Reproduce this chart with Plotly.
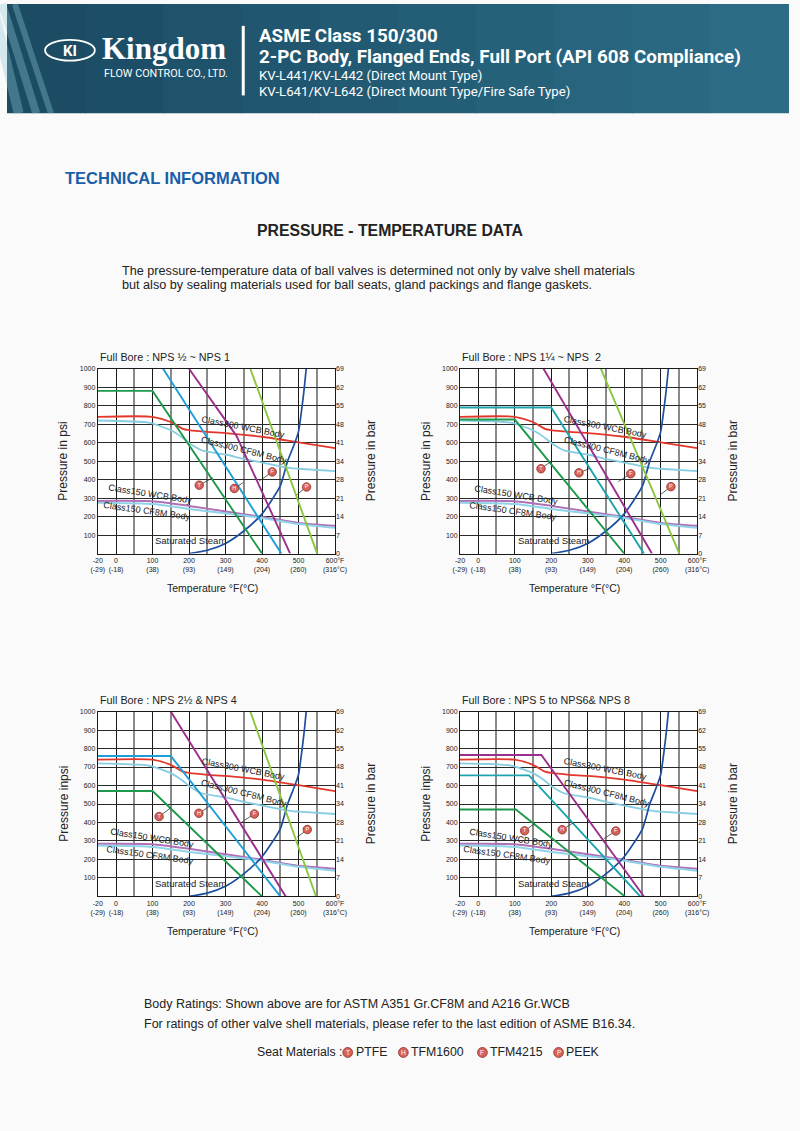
import plotly.graph_objects as go

W, H = 800, 1131

# ---------------- data ----------------
X_TICK_VALS = [-50, 0, 100, 200, 300, 400, 500, 600]
X_TICK_F = ["-20", "0", "100", "200", "300", "400", "500", "600°F"]
X_TICK_C = ["(-29)", "(-18)", "(38)", "(93)", "(149)", "(204)", "(260)", "(316°C)"]
PSI_TICKS = [100, 200, 300, 400, 500, 600, 700, 800, 900, 1000]
BAR_TICK_VALS = [0, 100, 200, 300, 400, 500, 600, 700, 800, 900, 1000]
BAR_TICK_TEXT = ["0", "7", "14", "21", "28", "34", "41", "48", "55", "62", "69"]

# body ratings (common to all four charts)
WCB300_T = [-50, 100, 150, 183, 200, 250, 300, 400, 500, 600]
WCB300_P = [740, 740, 712, 675, 668, 658, 652, 632, 602, 570]
CF8M300_T = [-50, 90, 150, 180, 200, 237, 300, 350, 400, 450, 480, 500, 600]
CF8M300_P = [720, 708, 667, 630, 598, 557, 536, 512, 492, 472, 462, 459, 446]
WCB150_T = [-50, 100, 200, 300, 400, 500, 600]
WCB150_P = [285, 283, 258, 228, 198, 166, 150]
CF8M150_T = [-50, 100, 200, 300, 400, 500, 600]
CF8M150_P = [275, 268, 241, 218, 193, 160, 139]
STEAM_T = [200, 250, 300, 350, 400, 450, 470, 490, 500, 510, 516, 521]
STEAM_P = [0, 18, 55, 122, 215, 366, 500, 600, 660, 800, 900, 1000]

# seat ratings, chart 1 : NPS 1/2 ~ 1
C1_PTFE_T, C1_PTFE_P = [-50, 100, 400], [880, 880, 0]
C1_TFM1600_T, C1_TFM1600_P = [129, 453], [1000, 0]
C1_TFM4215_T, C1_TFM4215_P = [200, 330, 477], [1000, 637, 0]
C1_PEEK_T, C1_PEEK_P = [368, 551], [1000, 0]
# chart 2 : NPS 1 1/4 ~ 2
C2_PTFE_T, C2_PTFE_P = [-50, 100, 400], [725, 725, 0]
C2_TFM1600_T, C2_TFM1600_P = [-50, 200, 454], [790, 790, 0]
C2_TFM4215_T, C2_TFM4215_P = [179, 476], [1000, 0]
C2_PEEK_T, C2_PEEK_P = [336, 551], [1000, 0]
# chart 3 : NPS 2 1/2 & 4
C3_PTFE_T, C3_PTFE_P = [-50, 100, 400], [570, 570, 0]
C3_TFM1600_T, C3_TFM1600_P = [-50, 150, 450], [760, 760, 0]
C3_TFM4215_T, C3_TFM4215_P = [150, 465], [1000, 0]
C3_PEEK_T, C3_PEEK_P = [368, 548], [1000, 0]
# chart 4 : NPS 5 ~ 8
C4_PTFE_T, C4_PTFE_P = [-50, 103, 402], [470, 470, 0]
C4_TFM1600_T, C4_TFM1600_P = [-50, 139, 444], [655, 655, 0]
C4_TFM4215_T, C4_TFM4215_P = [-50, 173, 454], [765, 765, 0]

# seat marker callouts: letter, marker (T, P), leader end (T, P)
C1_MARKS = [("T", 228, 370, 265, 410), ("H", 324, 352, 348, 384), ("F", 428, 442, 392, 392), ("P", 522, 360, 495, 318)]
C2_MARKS = [("T", 172, 459, 200, 500), ("H", 276, 437, 305, 460), ("F", 418, 432, 384, 390), ("P", 528, 362, 500, 320)]
C3_MARKS = [("T", 118, 432, 150, 480), ("H", 227, 450, 258, 490), ("F", 379, 446, 346, 405), ("P", 524, 362, 496, 320)]
C4_MARKS = [("T", 127, 355, 155, 395), ("H", 230, 361, 262, 400), ("F", 377, 354, 344, 312)]

CHART_TITLES = ["Full Bore : NPS ½ ~ NPS 1", "Full Bore : NPS 1¼ ~ NPS  2",
                "Full Bore : NPS 2½ & NPS 4", "Full Bore : NPS 5 to NPS6& NPS 8"]
PSI_TITLES = ["Pressure in psi", "Pressure in psi", "Pressure inpsi", "Pressure inpsi"]

# ---------------- styling ----------------
RED = "#e2372c"
LBLUE = "#86cde2"
PINK = "#b070b8"
LBLUE2 = "#8fd3e8"
STEAM = "#1d4f9e"
GREEN = "#1f9a4c"
HBLUE = "#1e9ed8"
TEAL = "#1ca5ad"
PURPLE = "#9b2f8c"
LGREEN = "#8cc63f"
FONT = "Liberation Sans"

# pixel boxes of the four plot areas: (left, right, top, bottom)
BOXES = [(93, 336, 367, 553), (464, 707, 367, 553), (93, 336, 712, 898), (464, 707, 712, 898)]


def px(x):
    return x / W


def py(y):
    return 1 - y / H


fig = go.Figure()
layout = dict(
    width=W, height=H, margin=dict(l=0, r=0, t=0, b=0),
    paper_bgcolor="#fafafa", plot_bgcolor="#ffffff", showlegend=False,
    font=dict(family=FONT, color="#222"),
)
shapes, annotations = [], []

seat_sets = [
    [(C1_PTFE_T, C1_PTFE_P, GREEN), (C1_TFM1600_T, C1_TFM1600_P, HBLUE), (C1_TFM4215_T, C1_TFM4215_P, PURPLE), (C1_PEEK_T, C1_PEEK_P, LGREEN)],
    [(C2_PTFE_T, C2_PTFE_P, GREEN), (C2_TFM1600_T, C2_TFM1600_P, TEAL), (C2_TFM4215_T, C2_TFM4215_P, PURPLE), (C2_PEEK_T, C2_PEEK_P, LGREEN)],
    [(C3_PTFE_T, C3_PTFE_P, GREEN), (C3_TFM1600_T, C3_TFM1600_P, HBLUE), (C3_TFM4215_T, C3_TFM4215_P, PURPLE), (C3_PEEK_T, C3_PEEK_P, LGREEN)],
    [(C4_PTFE_T, C4_PTFE_P, GREEN), (C4_TFM1600_T, C4_TFM1600_P, TEAL), (C4_TFM4215_T, C4_TFM4215_P, PURPLE)],
]
mark_sets = [C1_MARKS, C2_MARKS, C3_MARKS, C4_MARKS]
label_pos = [
    [(348, 687, 11), (350, 560, 14), (94, 322, 9), (86, 230, 8)],
    [(350, 687, 11), (352, 560, 14), (106, 318, 9), (94, 232, 8)],
    [(348, 687, 11), (350, 560, 14), (100, 318, 9), (92, 225, 8)],
    [(350, 687, 11), (352, 560, 14), (90, 318, 9), (80, 225, 8)],
]
body_texts = ["Class300 WCB Body", "Class300 CF8M Body", "Class150 WCB Body", "Class150 CF8M Body"]

tickfont = dict(family=FONT, size=7, color="#222")

for k, (l, r, t, b) in enumerate(BOXES):
    xa, ya, ya2 = f"x{k+1}", f"y{k+1}", f"y{k+5}"
    xkey = "xaxis" if k == 0 else f"xaxis{k+1}"
    ykey = "yaxis" if k == 0 else f"yaxis{k+1}"
    y2key = f"yaxis{k+5}"
    layout[xkey] = dict(
        domain=[px(l), px(r)], anchor=ya, range=[-50, 600],
        tickmode="array", tickvals=X_TICK_VALS,
        ticktext=[f"{a}<br>{c}" for a, c in zip(X_TICK_F, X_TICK_C)],
        tickfont=tickfont, ticks="", showgrid=True, gridcolor="#1a1a1a", gridwidth=1,
        minor=dict(tickvals=[50, 150, 250, 350, 450, 550], showgrid=True, gridcolor="#8a8a8a", gridwidth=1.6),
        showline=True, mirror=True, linecolor="#1a1a1a", linewidth=1, zeroline=False, fixedrange=True,
    )
    layout[ykey] = dict(
        domain=[py(b), py(t)], anchor=xa, range=[0, 1000],
        tickmode="array", tickvals=PSI_TICKS, tickfont=tickfont, ticks="",
        showgrid=True, gridcolor="#2a2a2a", gridwidth=1,
        showline=True, mirror=True, linecolor="#1a1a1a", linewidth=1, zeroline=False,
    )
    layout[y2key] = dict(
        overlaying=ya, anchor=xa, side="right", range=[0, 1000],
        tickmode="array", tickvals=BAR_TICK_VALS, ticktext=BAR_TICK_TEXT,
        tickfont=tickfont, ticks="", showgrid=False, zeroline=False, showline=False,
    )
    fig.add_trace(go.Scatter(x=[0], y=[0], mode="markers", marker=dict(opacity=0),
                             xaxis=xa, yaxis=ya2, hoverinfo="skip"))

    def line(xs, ys, color, width=1.7, spline=False):
        fig.add_trace(go.Scatter(
            x=xs, y=ys, mode="lines",
            line=dict(color=color, width=width, shape="spline" if spline else "linear", smoothing=0.6),
            xaxis=xa, yaxis=ya, hoverinfo="skip"))

    line(WCB300_T, WCB300_P, RED, 1.8, True)
    line(CF8M300_T, CF8M300_P, LBLUE, 1.8, True)
    line(WCB150_T, WCB150_P, PINK, 2.0, True)
    line(CF8M150_T, CF8M150_P, LBLUE2, 2.0, True)
    line(STEAM_T, STEAM_P, STEAM, 1.7, True)
    for xs, ys, c in seat_sets[k]:
        line(xs, ys, c, 1.9)

    # leader lines and seat markers
    for lab, mx, my, ex, ey in mark_sets[k]:
        fig.add_trace(go.Scatter(x=[mx, ex], y=[my, ey], mode="lines",
                                 line=dict(color="#333", width=0.8), xaxis=xa, yaxis=ya, hoverinfo="skip"))
    fig.add_trace(go.Scatter(
        x=[m[1] for m in mark_sets[k]], y=[m[2] for m in mark_sets[k]],
        mode="markers+text", text=[m[0] for m in mark_sets[k]], textposition="middle center",
        textfont=dict(size=5.5, color="#ffffff", family=FONT),
        marker=dict(size=8.5, color="#d6625a", line=dict(color="#8e3028", width=0.8)),
        xaxis=xa, yaxis=ya, hoverinfo="skip"))

    # curve labels
    for (lx, ly, ang), txt in zip(label_pos[k], body_texts):
        annotations.append(dict(x=lx, y=ly, xref=xa, yref=ya, text=txt, showarrow=False,
                                textangle=ang, font=dict(size=9, color="#222", family=FONT)))
    annotations.append(dict(x=205 if k % 2 == 0 else 206, y=72, xref=xa, yref=ya, text="Saturated Steam",
                            showarrow=False, font=dict(size=9.5, color="#222", family=FONT)))

    # titles around the chart
    annotations.append(dict(x=px(l), y=py(t - 12), text=CHART_TITLES[k], xanchor="left",
                            font=dict(size=10.8, color="#222", family=FONT)))
    annotations.append(dict(x=px(l - 35), y=py((t + b) / 2), text=PSI_TITLES[k],
                            textangle=-90, font=dict(size=12, color="#222", family=FONT)))
    annotations.append(dict(x=px(r + 37), y=py((t + b) / 2), text="Pressure in bar",
                            textangle=-90, font=dict(size=12, color="#222", family=FONT)))
    annotations.append(dict(x=px((l + r) / 2 - 4), y=py(b + 35), text="Temperature °F(°C)",
                            font=dict(size=10.5, color="#222", family=FONT)))

# ---------------- header band ----------------
n = 10
for i in range(n):
    f = i / (n - 1)
    c0, c1 = (27, 76, 100), (44, 108, 134)
    col = "rgb(%d,%d,%d)" % tuple(int(a + (b2 - a) * f) for a, b2 in zip(c0, c1))
    shapes.append(dict(type="rect", xref="paper", yref="paper", x0=px(i * W / n), x1=px((i + 1) * W / n + 1),
                       y0=py(110), y1=1, fillcolor=col, line=dict(width=0), layer="below"))
for (x0, x1, w) in [(-5, 30, 8), (8, 45, 6), (-15, 12, 10)]:
    shapes.append(dict(type="line", xref="paper", yref="paper", x0=px(x0), y0=py(0), x1=px(x1), y1=py(110),
                       line=dict(color="rgba(140,200,215,0.35)", width=w)))
shapes.append(dict(type="circle", xref="paper", yref="paper", x0=px(39), x1=px(90), y0=py(57), y1=py(36),
                   line=dict(color="white", width=1.8)))
shapes.append(dict(type="line", xref="paper", yref="paper", x0=px(242), x1=px(242), y0=py(92), y1=py(22),
                   line=dict(color="white", width=3)))
annotations += [
    dict(x=px(64.5), y=py(47), text="<b>KI</b>", font=dict(size=15, color="white", family="Roboto")),
    dict(x=px(95), y=py(45), text="<b>Kingdom</b>", xanchor="left", font=dict(size=31, color="white", family="Liberation Serif")),
    dict(x=px(97), y=py(70), text="FLOW CONTROL CO., LTD.", xanchor="left", font=dict(size=10.8, color="white", family="Roboto")),
    dict(x=px(256), y=py(32), text="<b>ASME Class 150/300</b>", xanchor="left", font=dict(size=18.8, color="white", family="Roboto")),
    dict(x=px(256), y=py(53.5), text="<b>2-PC Body, Flanged Ends, Full Port (API 608 Compliance)</b>", xanchor="left",
         font=dict(size=18.8, color="white", family="Roboto")),
    dict(x=px(256), y=py(72), text="KV-L441/KV-L442 (Direct Mount Type)", xanchor="left",
         font=dict(size=13.2, color="white", family="Roboto")),
    dict(x=px(256), y=py(88), text="KV-L641/KV-L642 (Direct Mount Type/Fire Safe Type)", xanchor="left",
         font=dict(size=13.2, color="white", family="Roboto")),
    dict(x=px(57), y=py(175), text="<b>TECHNICAL INFORMATION</b>", xanchor="left",
         font=dict(size=16.5, color="#1a5ea8", family=FONT)),
    dict(x=px(392), y=py(228), text="<b>PRESSURE - TEMPERATURE DATA</b>",
         font=dict(size=15.8, color="#222", family=FONT)),
    dict(x=px(116), y=py(269), text="The pressure-temperature data of ball valves is determined not only by valve shell materials",
         xanchor="left", font=dict(size=12.65, color="#222", family=FONT)),
    dict(x=px(116), y=py(283), text="but also by sealing materials used for ball seats, gland packings and flange gaskets.",
         xanchor="left", font=dict(size=12.65, color="#222", family=FONT)),
    dict(x=px(138), y=py(1006), text="Body Ratings: Shown above are for ASTM A351 Gr.CF8M and A216 Gr.WCB",
         xanchor="left", font=dict(size=12.5, color="#222", family=FONT)),
    dict(x=px(138), y=py(1026), text="For ratings of other valve shell materials, please refer to the last edition of ASME B16.34.",
         xanchor="left", font=dict(size=12.5, color="#222", family=FONT)),
    dict(x=px(254), y=py(1055), text="Seat Materials :", xanchor="left", font=dict(size=12.3, color="#222", family=FONT)),
]
for lab, cx, name in [("T", 349, "PTFE"), ("H", 406, "TFM1600"), ("F", 487, "TFM4215"), ("P", 565, "PEEK")]:
    shapes.append(dict(type="circle", xref="paper", yref="paper", x0=px(cx - 5), x1=px(cx + 5),
                       y0=py(1060), y1=py(1050), fillcolor="#d6625a", line=dict(color="#8e3028", width=0.8)))
    annotations.append(dict(x=px(cx), y=py(1055), text=lab, font=dict(size=6.5, color="white", family=FONT)))
    annotations.append(dict(x=px(cx + 6), y=py(1055), text=name, xanchor="left",
                            font=dict(size=12.3, color="#222", family=FONT)))

for a in annotations:
    a.setdefault("xref", "paper")
    a.setdefault("yref", "paper")
    a.setdefault("showarrow", False)
    a.setdefault("xanchor", "center")
    a.setdefault("yanchor", "middle")

layout["shapes"] = shapes
layout["annotations"] = annotations
fig.update_layout(**layout)
fig.write_html(
    "out.html",
    config={"displayModeBar": False, "responsive": False},
    post_script=(
        "document.documentElement.style.margin='0';document.body.style.margin='0';"
        "document.body.style.padding='0';document.body.style.overflow='hidden';"
        "var d=document.getElementById('{plot_id}');d.style.position='absolute';"
        "d.style.left='0px';d.style.top='0px';"
    ),
)
